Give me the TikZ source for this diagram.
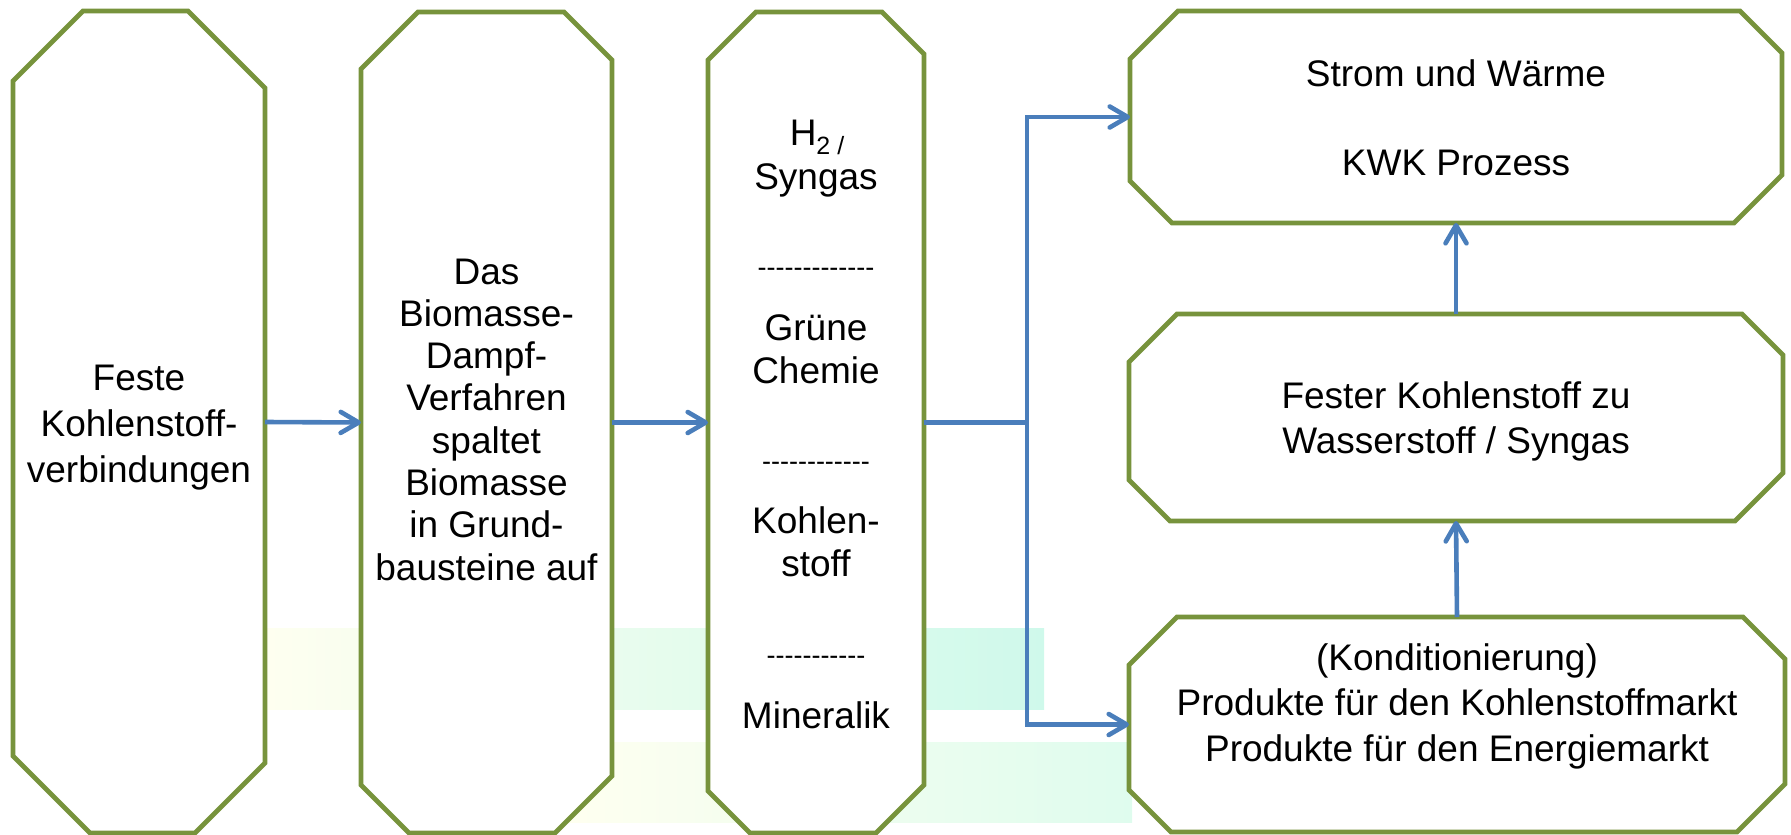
\documentclass[tikz,border=0pt]{standalone}
\usepackage{fontspec}
\setmainfont{Liberation Sans}
\usetikzlibrary{arrows.meta}

\definecolor{boxgreen}{HTML}{77933C}
\definecolor{flowblue}{HTML}{4A7EBB}
\definecolor{washyellow}{HTML}{FFFFF0}
\definecolor{washmint}{HTML}{CFF9EB}
\definecolor{washmintlight}{HTML}{DFFCEE}

% a hyphen that never merges with its neighbour into a dash
\newcommand\hy{-\kern0pt}

% octagonal outline drawn over a plain frame node:
% #1 frame, #2 cut at top-left and bottom-right, #3 cut at top-right and bottom-left
\newcommand\octoutline[3]{%
  \path[octline]
    ([yshift=-#2pt]#1.north west) -- ([xshift=#2pt]#1.north west)
    -- ([xshift=-#3pt]#1.north east) -- ([yshift=-#3pt]#1.north east)
    -- ([yshift=#2pt]#1.south east) -- ([xshift=-#2pt]#1.south east)
    -- ([xshift=#3pt]#1.south west) -- ([yshift=#3pt]#1.south west)
    -- cycle;}

\tikzset{
  barb/.tip={Straight Barb[length=18pt,width=21pt,round]},
  frame/.style={rectangle, draw=none, inner sep=0pt, outer sep=0pt},
  octline/.style={draw=boxgreen, fill=white, line width=4.8pt},
  txt/.style={font=\fontsize{37}{44}\selectfont, inner sep=0pt, anchor=base},
  dashtxt/.style={font=\fontsize{27}{32}\selectfont, inner sep=0pt, anchor=base},
  flowline/.style={draw=flowblue, line width=4.6pt},
  flow/.style={flowline, -barb},
}

\begin{document}
\begin{tikzpicture}[x=1pt, y=-1pt]
\useasboundingbox (0,0) rectangle (1791,835);

% faint washes behind the boxes
\shade[left color=washyellow, right color=washmint] (250,628) rectangle (1044,709);
\shade[left color=washyellow, right color=washmintlight] (560,742) rectangle (1132,822);

% frames of the six stages
\node[frame, minimum width=252pt, minimum height=822pt] (b1) at (139,422) {};
\node[frame, minimum width=251pt, minimum height=821pt] (b2) at (486.5,422.5) {};
\node[frame, minimum width=216pt, minimum height=821pt] (b3) at (816,422.5) {};
\node[frame, minimum width=652pt, minimum height=212pt] (r1) at (1456,117) {};
\node[frame, minimum width=654pt, minimum height=207pt] (r2) at (1456,417.5) {};
\node[frame, minimum width=656pt, minimum height=215pt] (r3) at (1457,724.5) {};

\octoutline{b1}{70}{77}
\octoutline{b2}{57}{48}
\octoutline{b3}{48}{42}
\octoutline{r1}{48}{42}
\octoutline{r2}{48}{41}
\octoutline{r3}{48}{42}

% connectors
\coordinate (jx) at (1027,0);
\draw[flow] (b1.east) -- (b2.west);
\draw[flow] (b2.east) -- (b3.west);
\draw[flowline] (b3.east) -- (b3.east -| jx);
\draw[flowline, barb-barb] (r1.west) -- (r1.west -| jx) -- (r3.west -| jx) -- (r3.west);
\draw[flow] (r3.north) -- (r2.south);
\draw[flow] (r2.north) -- (r1.south);

% texts
\node[txt] (t1a) at (139,390) {Feste};
\node[txt] (t1b) at (139,436) {Kohlenstoff-};
\node[txt] (t1c) at (139,482) {verbindungen};

\foreach \line [count=\i] in {Das, Biomasse-, Dampf-, Verfahren, spaltet, Biomasse, in Grund-, bausteine auf}
  \node[txt] (t2\i) at (486.5,{284+42.3*(\i-1)}) {\line};

\node[txt] (t3a) at (817,145) {H\raisebox{-9pt}{\fontsize{25}{25}\selectfont 2 /}};
\node[txt] (t3b) at (816,189) {Syngas};
\node[dashtxt] (t3c) at (816,276) {\hy\hy\hy\hy\hy\hy\hy\hy\hy\hy\hy\hy\hy};
\node[txt] (t3d) at (816,340) {Grüne};
\node[txt] (t3e) at (816,383) {Chemie};
\node[dashtxt] (t3f) at (816,470) {\hy\hy\hy\hy\hy\hy\hy\hy\hy\hy\hy\hy};
\node[txt] (t3g) at (816,533) {Kohlen-};
\node[txt] (t3h) at (816,576) {stoff};
\node[dashtxt] (t3i) at (816,664) {\hy\hy\hy\hy\hy\hy\hy\hy\hy\hy\hy};
\node[txt] (t3j) at (816,728) {Mineralik};

\node[txt] (t4a) at (1456,86) {Strom und Wärme};
\node[txt] (t4b) at (1456,175) {KWK Prozess};

\node[txt] (t5a) at (1456,408) {Fester Kohlenstoff zu};
\node[txt] (t5b) at (1456,453) {Wasserstoff / Syngas};

\node[txt] (t6a) at (1457,670) {(Konditionierung)};
\node[txt] (t6b) at (1457,715) {Produkte für den Kohlenstoffmarkt};
\node[txt] (t6c) at (1457,761) {Produkte für den Energiemarkt};
\end{tikzpicture}
\end{document}
